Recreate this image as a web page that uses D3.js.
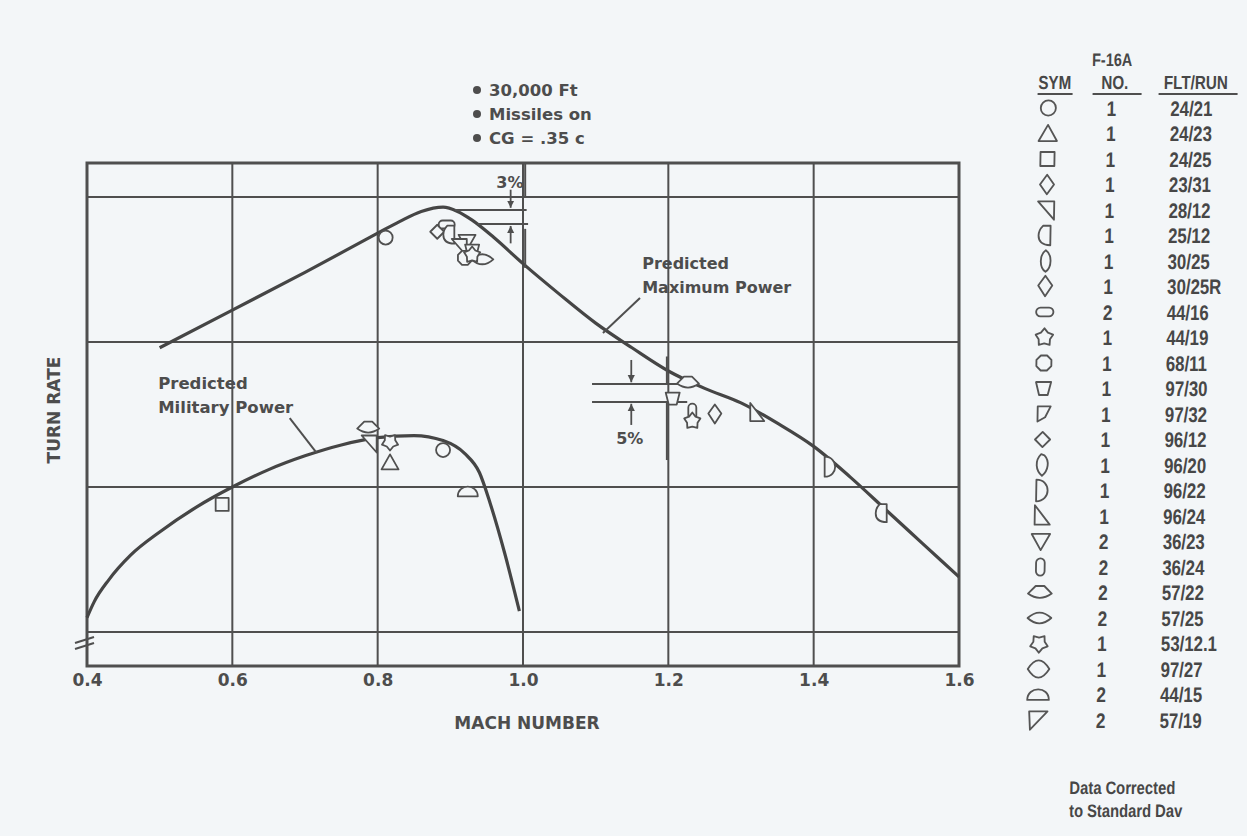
<!DOCTYPE html>
<html lang="en">
<head>
<meta charset="UTF-8">
<title>F-16A Turn Rate vs Mach Number</title>
<script src="https://d3js.org/d3.v7.min.js"></script>
<style>
  body { margin: 0; background: #f3f6f8; }
  svg { display: block; }
  .lbl { font-family: "DejaVu Sans", sans-serif; font-weight: bold; fill: #4d4d4d; }
  .leg { font-family: "Liberation Sans", Arial, sans-serif; font-weight: bold; fill: #474747; }
</style>
</head>
<body>
<svg id="chart" width="1247" height="836"></svg>
<script>
// ---- data (turn rate in grid units, no scale printed) ----
const machTicks = [0.4, 0.6, 0.8, 1.0, 1.2, 1.4, 1.6];
const rateGrid = [0, 1, 2, 3];
const notes = ["30,000 Ft", "Missiles on", "CG = .35 c"];

const maxPowerMach = [0.50, 0.60, 0.70, 0.80, 0.83, 0.86, 0.89, 0.91, 0.93, 0.96, 1.00, 1.05, 1.10, 1.15, 1.20, 1.25, 1.30, 1.35, 1.40, 1.45, 1.50, 1.55, 1.60];
const maxPowerRate = [1.96, 2.22, 2.48, 2.75, 2.83, 2.90, 2.93, 2.90, 2.84, 2.72, 2.54, 2.33, 2.13, 1.96, 1.80, 1.68, 1.58, 1.44, 1.28, 1.07, 0.84, 0.61, 0.38];

const milPowerMach = [0.40, 0.41, 0.43, 0.46, 0.50, 0.55, 0.60, 0.65, 0.70, 0.75, 0.80, 0.85, 0.89, 0.92, 0.94, 0.955, 0.975, 0.995];
const milPowerRate = [0.10, 0.21, 0.36, 0.53, 0.69, 0.86, 1.00, 1.12, 1.215, 1.29, 1.34, 1.355, 1.32, 1.23, 1.10, 0.885, 0.54, 0.145];

const legendRuns = ["24/21", "24/23", "24/25", "23/31", "28/12", "25/12", "30/25", "30/25R", "44/16", "44/19", "68/11", "97/30", "97/32", "96/12", "96/20", "96/22", "96/24", "36/23", "36/24", "57/22", "57/25", "53/12.1", "97/27", "44/15", "57/19"];
const legendAircraft = [1, 1, 1, 1, 1, 1, 1, 1, 2, 1, 1, 1, 1, 1, 1, 1, 1, 2, 2, 2, 2, 1, 1, 2, 2];

const testRuns = ["24/21", "96/12", "44/16", "25/12", "36/23", "28/12", "97/30", "68/11", "57/25", "44/19",
                  "57/22", "97/30", "36/24", "44/19", "30/25R", "96/24", "96/22", "25/12",
                  "24/25", "57/22", "28/12", "53/12.1", "24/23", "24/21", "44/15"];
const testMach = [0.811, 0.882, 0.895, 0.900, 0.923, 0.913, 0.930, 0.920, 0.944, 0.930,
                  1.227, 1.206, 1.233, 1.233, 1.264, 1.321, 1.422, 1.495,
                  0.586, 0.787, 0.789, 0.817, 0.817, 0.890, 0.924];
const testRate = [2.72, 2.76, 2.81, 2.74, 2.69, 2.655, 2.63, 2.58, 2.57, 2.60,
                  1.72, 1.61, 1.52, 1.455, 1.50, 1.51, 1.14, 0.82,
                  0.88, 1.41, 1.30, 1.31, 1.17, 1.255, 0.97];

// ---- symbol outlines ----
function star(outer, inner, rot) {
  const p = d3.range(10).map(i => {
    const a = (rot - 90 + i * 36) * Math.PI / 180, r = i % 2 ? inner : outer;
    return [r * Math.cos(a), r * Math.sin(a)];
  });
  return "M" + p.join("L") + "Z";
}
function polygon(n, r, rot) {
  const p = d3.range(n).map(i => {
    const a = (rot + i * 360 / n) * Math.PI / 180;
    return [r * Math.cos(a), r * Math.sin(a)];
  });
  return "M" + p.join("L") + "Z";
}
const shapes = {
  "24/21": "M-7,0a7,7 0 1,0 14,0a7,7 0 1,0 -14,0",
  "24/23": "M0,-8L8.5,7L-8.5,7Z",
  "24/25": "M-6.5,-6.5H6.5V6.5H-6.5Z",
  "23/31": "M0,-9L6.5,0L0,9L-6.5,0Z",
  "28/12": "M-8,-8L7,-8L7,9Z",
  "25/12": "M4,-9L4,9C-4,9 -7,5 -7,0C-7,-4 -5,-7 -3,-9Z",
  "30/25": "M0,-10C6,-6 6,6 0,10C-6,6 -6,-6 0,-10Z",
  "30/25R": "M0,-10L6.5,-1L0,9L-6.5,-1Z",
  "44/16": "M-4,-4H4A4,4 0 0 1 4,4H-4A4,4 0 0 1 -4,-4Z",
  "44/19": star(8.5, 5.5, 0),
  "68/11": polygon(8, 7.5, 22.5),
  "97/30": "M-7,-6H7L4,6H-4Z",
  "97/32": "M-5,-7H7L2,3L-5,7Z",
  "96/12": "M0,-7L7,0L0,7L-7,0Z",
  "96/20": "M-1,-10L2,-9C7,-4 6,5 0,10C-6,5 -7,-4 -1,-10Z",
  "96/22": "M-5,-10L-5,10C9,10 9,-10 -5,-10Z",
  "96/24": "M-6,-10L-6,8L8,8Z",
  "36/23": "M-8.5,-7H8.5L0,8Z",
  "36/24": "M-4,-4A4,4 0 0 1 4,-4V4A4,4 0 0 1 -4,4Z",
  "57/22": "M-11,1L-4,-6L4,-6L11,1Q0,9 -11,1Z",
  "57/25": "M-11,0Q0,-10 11,0Q0,10 -11,0Z",
  "53/12.1": star(8.5, 5.5, 180),
  "97/27": "M-10,0Q-5,-8 0,-8Q5,-8 10,0Q5,8 0,8Q-5,8 -10,0Z",
  "44/15": "M-10,5C-10,-8 10,-8 10,5Z",
  "57/19": "M-8,-8H9L-7,9Z"
};

// ---- scales ----
const svg = d3.select("#chart");
const x = d3.scaleLinear().domain([0.4, 1.6]).range([87, 959]);
const y = d3.scaleLinear().domain([-0.234, 3.234]).range([666, 163]);
const ink = "#4f4f4f";

svg.append("defs").append("marker")
  .attr("id", "arr").attr("viewBox", "0 0 10 10")
  .attr("refX", 10).attr("refY", 5)
  .attr("markerWidth", 4).attr("markerHeight", 5)
  .attr("orient", "auto")
  .append("path").attr("d", "M0,0L10,5L0,10Z").attr("fill", ink);

const g = svg.append("g");

// grid
g.selectAll(".vgrid").data(machTicks.slice(1, -1)).enter().append("line")
  .attr("x1", d => x(d)).attr("x2", d => x(d))
  .attr("y1", y.range()[1]).attr("y2", y.range()[0])
  .attr("stroke", ink).attr("stroke-width", 2);
g.selectAll(".hgrid").data(rateGrid).enter().append("line")
  .attr("x1", x.range()[0]).attr("x2", x.range()[1])
  .attr("y1", d => y(d)).attr("y2", d => y(d))
  .attr("stroke", ink).attr("stroke-width", 2);
g.append("rect")
  .attr("x", x.range()[0]).attr("y", y.range()[1])
  .attr("width", x.range()[1] - x.range()[0]).attr("height", y.range()[0] - y.range()[1])
  .attr("fill", "none").attr("stroke", ink).attr("stroke-width", 3);

// axis break mark on the turn-rate axis
const breakRate = -0.075;
[-3, 3].forEach(o => {
  g.append("line")
    .attr("x1", x(0.4) - 12).attr("y1", y(breakRate) + o + 3)
    .attr("x2", x(0.4) + 7).attr("y2", y(breakRate) + o - 3)
    .attr("stroke", ink).attr("stroke-width", 2);
});

// tick labels
const ax = g.append("g").attr("transform", `translate(0,${y.range()[0] + 4})`)
  .call(d3.axisBottom(x).tickValues(machTicks).tickSize(0).tickPadding(4).tickFormat(d3.format(".1f")));
ax.select(".domain").remove();
ax.selectAll("text").attr("class", "lbl").style("font-size", "17px").attr("fill", null);

svg.append("text").attr("class", "lbl").attr("x", 527).attr("y", 729)
  .attr("text-anchor", "middle").style("font-size", "17px").text("MACH NUMBER");
svg.append("text").attr("class", "lbl")
  .attr("transform", "translate(60,410) rotate(-90)")
  .attr("text-anchor", "middle").style("font-size", "17px").text("TURN RATE");

// notes
notes.forEach((t, i) => {
  svg.append("circle").attr("cx", 477).attr("cy", 90 + i * 24).attr("r", 4).attr("fill", "#4d4d4d");
  svg.append("text").attr("class", "lbl").attr("x", 489).attr("y", 96 + i * 24)
    .style("font-size", "16.5px").text(t);
});

// curves
const line = d3.line().x(d => x(d[0])).y(d => y(d[1])).curve(d3.curveMonotoneX);
g.append("path").datum(d3.zip(maxPowerMach, maxPowerRate)).attr("d", line)
  .attr("fill", "none").attr("stroke", "#454545").attr("stroke-width", 3.2);
g.append("path").datum(d3.zip(milPowerMach, milPowerRate)).attr("d", line)
  .attr("fill", "none").attr("stroke", "#454545").attr("stroke-width", 3.2);

// annotations
function seg(m1, r1, m2, r2, arrow) {
  const l = g.append("line")
    .attr("x1", x(m1)).attr("y1", y(r1)).attr("x2", x(m2)).attr("y2", y(r2))
    .attr("stroke", ink).attr("stroke-width", 2);
  if (arrow) l.attr("marker-end", "url(#arr)").attr("stroke-width", 1.8);
}
// 3% band
seg(0.906, 2.910, 1.005, 2.910);
seg(0.937, 2.814, 1.007, 2.814);
seg(1.003, 3.24, 1.003, 3.0);
seg(1.003, 2.78, 1.003, 2.51);
seg(0.983, 3.05, 0.983, 2.925, true);
seg(0.983, 2.68, 0.983, 2.80, true);
g.append("text").attr("class", "lbl").attr("x", x(0.982)).attr("y", y(3.06))
  .attr("text-anchor", "middle").style("font-size", "16px").text("3%");
// 5% band
seg(1.095, 1.710, 1.216, 1.710);
seg(1.095, 1.586, 1.226, 1.586);
seg(1.198, 1.90, 1.198, 1.710);
seg(1.198, 1.586, 1.198, 1.186);
seg(1.149, 1.876, 1.149, 1.722, true);
seg(1.149, 1.428, 1.149, 1.574, true);
g.append("text").attr("class", "lbl").attr("x", x(1.147)).attr("y", y(1.30))
  .attr("text-anchor", "middle").style("font-size", "16px").text("5%");

// curve labels + leaders
seg(1.161, 2.303, 1.110, 2.062);
seg(0.679, 1.475, 0.716, 1.236);
[["Predicted", 2.50], ["Maximum Power", 2.335]].forEach(([t, r]) =>
  g.append("text").attr("class", "lbl").attr("x", x(1.164)).attr("y", y(r)).style("font-size", "16px").text(t));
[["Predicted", 1.676], ["Military Power", 1.510]].forEach(([t, r]) =>
  g.append("text").attr("class", "lbl").attr("x", x(0.498)).attr("y", y(r)).style("font-size", "16.5px").text(t));

// flight test points
g.selectAll(".pt").data(d3.range(testRuns.length)).enter().append("path")
  .attr("transform", i => `translate(${x(testMach[i])},${y(testRate[i])})`)
  .attr("d", i => shapes[testRuns[i]])
  .attr("fill", "#f3f6f8").attr("stroke", "#505050").attr("stroke-width", 1.8)
  .attr("stroke-linejoin", "round");

// ---- legend table ----
const leg = svg.append("g").attr("transform", "translate(0,414) skewX(-1) translate(0,-414)");
const row0 = 108, rowStep = 25.5;
function squeeze(sel, k) {
  sel.each(function () {
    const w = this.getComputedTextLength();
    this.setAttribute("textLength", w * k);
    this.setAttribute("lengthAdjust", "spacingAndGlyphs");
  });
}
leg.append("text").attr("class", "leg").attr("x", 1106).attr("y", 66)
  .attr("text-anchor", "middle").style("font-size", "18px").text("F-16A").call(squeeze, 0.8);
[["SYM", 1049, 1032, 1067], ["NO.", 1109, 1087, 1136], ["FLT/RUN", 1190, 1153, 1232]].forEach(([t, cx, a, b]) => {
  leg.append("text").attr("class", "leg").attr("x", cx).attr("y", 89)
    .attr("text-anchor", "middle").style("font-size", "19px").text(t).call(squeeze, 0.8);
  leg.append("line").attr("x1", a).attr("x2", b).attr("y1", 94).attr("y2", 94)
    .attr("stroke", ink).attr("stroke-width", 2);
});
legendRuns.forEach((run, i) => {
  const cy = row0 + i * rowStep;
  leg.append("path").attr("transform", `translate(1043,${cy}) scale(1.08)`).attr("d", shapes[run])
    .attr("fill", "none").attr("stroke", "#555").attr("stroke-width", 1.7).attr("stroke-linejoin", "round");
  leg.append("text").attr("class", "leg").attr("x", 1106).attr("y", cy + 8)
    .attr("text-anchor", "middle").style("font-size", "21px").text(legendAircraft[i]).call(squeeze, 0.82);
  leg.append("text").attr("class", "leg").attr("x", 1165).attr("y", cy + 8)
    .style("font-size", "21px").text(run).call(squeeze, 0.8);
});
[["Data Corrected", 794], ["to Standard Dav", 817]].forEach(([t, yy]) =>
  leg.append("text").attr("class", "leg").attr("x", 1076).attr("y", yy)
    .style("font-size", "18px").text(t).call(squeeze, 0.82));
</script>
</body>
</html>
